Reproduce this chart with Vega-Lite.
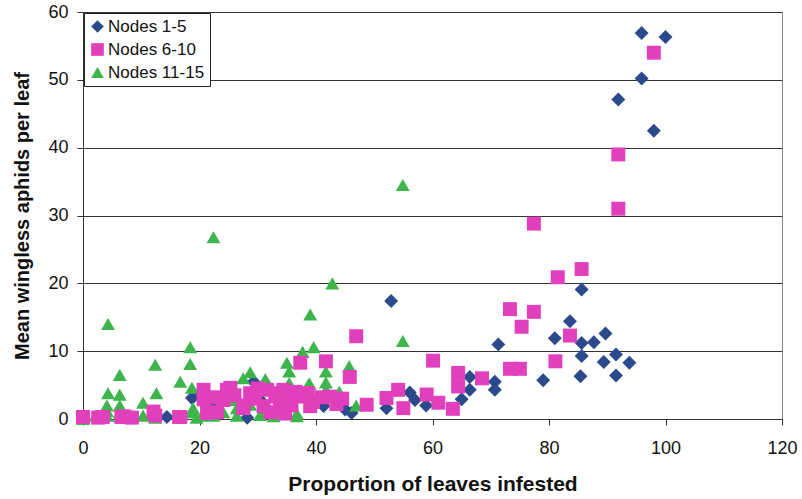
{
  "$schema": "https://vega.github.io/schema/vega-lite/v6.json",
  "width": 699,
  "height": 407,
  "autosize": {"type": "none"},
  "padding": {"left": 83, "top": 12, "right": 20, "bottom": 80},
  "background": "white",
  "config": {
    "font": "Liberation Sans",
    "view": {"stroke": "#888888", "strokeWidth": 1}
  },
  "datasets": {
    "pts": [
      {"series": "Nodes 1-5", "x": 95.9, "y": 56.9},
      {"series": "Nodes 1-5", "x": 100, "y": 56.3},
      {"series": "Nodes 1-5", "x": 95.9, "y": 50.2},
      {"series": "Nodes 1-5", "x": 91.9, "y": 47.1},
      {"series": "Nodes 1-5", "x": 98, "y": 42.5},
      {"series": "Nodes 1-5", "x": 85.6, "y": 19.1},
      {"series": "Nodes 1-5", "x": 83.6, "y": 14.4},
      {"series": "Nodes 1-5", "x": 71.3, "y": 11.0},
      {"series": "Nodes 1-5", "x": 81.0, "y": 11.9},
      {"series": "Nodes 1-5", "x": 85.6, "y": 11.2},
      {"series": "Nodes 1-5", "x": 87.7, "y": 11.3},
      {"series": "Nodes 1-5", "x": 89.7, "y": 12.6},
      {"series": "Nodes 1-5", "x": 85.6, "y": 9.3},
      {"series": "Nodes 1-5", "x": 91.5, "y": 9.5},
      {"series": "Nodes 1-5", "x": 89.4, "y": 8.4},
      {"series": "Nodes 1-5", "x": 93.8, "y": 8.3},
      {"series": "Nodes 1-5", "x": 85.4, "y": 6.3},
      {"series": "Nodes 1-5", "x": 91.5, "y": 6.4},
      {"series": "Nodes 1-5", "x": 79.0, "y": 5.7},
      {"series": "Nodes 1-5", "x": 70.7, "y": 5.5},
      {"series": "Nodes 1-5", "x": 70.7, "y": 4.3},
      {"series": "Nodes 1-5", "x": 66.4, "y": 6.2},
      {"series": "Nodes 1-5", "x": 66.4, "y": 4.3},
      {"series": "Nodes 1-5", "x": 65, "y": 2.9},
      {"series": "Nodes 1-5", "x": 52.9, "y": 17.4},
      {"series": "Nodes 1-5", "x": 56.1, "y": 3.9},
      {"series": "Nodes 1-5", "x": 57.0, "y": 2.8},
      {"series": "Nodes 1-5", "x": 58.9, "y": 2.0},
      {"series": "Nodes 1-5", "x": 52.1, "y": 1.6},
      {"series": "Nodes 1-5", "x": 45, "y": 1.4},
      {"series": "Nodes 1-5", "x": 46.1, "y": 0.9},
      {"series": "Nodes 1-5", "x": 14.4, "y": 0.3},
      {"series": "Nodes 1-5", "x": 18.7, "y": 3.1},
      {"series": "Nodes 1-5", "x": 29.3, "y": 5.5},
      {"series": "Nodes 1-5", "x": 30.7, "y": 2.6},
      {"series": "Nodes 1-5", "x": 28.2, "y": 0.2},
      {"series": "Nodes 1-5", "x": 22.4, "y": 2.3},
      {"series": "Nodes 1-5", "x": 41.3, "y": 1.9},
      {"series": "Nodes 1-5", "x": 19, "y": 3.3},
      {"series": "Nodes 6-10", "x": 98, "y": 54.0},
      {"series": "Nodes 6-10", "x": 91.9, "y": 39.0},
      {"series": "Nodes 6-10", "x": 91.9, "y": 31.0},
      {"series": "Nodes 6-10", "x": 77.4, "y": 28.8},
      {"series": "Nodes 6-10", "x": 85.6, "y": 22.1},
      {"series": "Nodes 6-10", "x": 81.5, "y": 20.9},
      {"series": "Nodes 6-10", "x": 73.3, "y": 16.2},
      {"series": "Nodes 6-10", "x": 77.4, "y": 15.8},
      {"series": "Nodes 6-10", "x": 75.3, "y": 13.6},
      {"series": "Nodes 6-10", "x": 83.6, "y": 12.3},
      {"series": "Nodes 6-10", "x": 81.1, "y": 8.5},
      {"series": "Nodes 6-10", "x": 73.3, "y": 7.4},
      {"series": "Nodes 6-10", "x": 75, "y": 7.4},
      {"series": "Nodes 6-10", "x": 68.5, "y": 6.0},
      {"series": "Nodes 6-10", "x": 64.4, "y": 6.8},
      {"series": "Nodes 6-10", "x": 64.4, "y": 4.8},
      {"series": "Nodes 6-10", "x": 63.5, "y": 1.5},
      {"series": "Nodes 6-10", "x": 46.9, "y": 12.2},
      {"series": "Nodes 6-10", "x": 60.1, "y": 8.6},
      {"series": "Nodes 6-10", "x": 37.3, "y": 8.3},
      {"series": "Nodes 6-10", "x": 41.7, "y": 8.5},
      {"series": "Nodes 6-10", "x": 45.8, "y": 6.2},
      {"series": "Nodes 6-10", "x": 48.7, "y": 2.1},
      {"series": "Nodes 6-10", "x": 52.1, "y": 3.1},
      {"series": "Nodes 6-10", "x": 54.1, "y": 4.3},
      {"series": "Nodes 6-10", "x": 55, "y": 1.6},
      {"series": "Nodes 6-10", "x": 59, "y": 3.6},
      {"series": "Nodes 6-10", "x": 61, "y": 2.4},
      {"series": "Nodes 6-10", "x": 39.5, "y": 2.5},
      {"series": "Nodes 6-10", "x": 41, "y": 3.2},
      {"series": "Nodes 6-10", "x": 43.5, "y": 2.2},
      {"series": "Nodes 6-10", "x": 44.5, "y": 3.0},
      {"series": "Nodes 6-10", "x": 0, "y": 0.3},
      {"series": "Nodes 6-10", "x": 2.6, "y": 0.2},
      {"series": "Nodes 6-10", "x": 6.6, "y": 0.3},
      {"series": "Nodes 6-10", "x": 8.4, "y": 0.2},
      {"series": "Nodes 6-10", "x": 12.4, "y": 0.5},
      {"series": "Nodes 6-10", "x": 16.5, "y": 0.3},
      {"series": "Nodes 6-10", "x": 20.7, "y": 4.3},
      {"series": "Nodes 6-10", "x": 20.7, "y": 2.9},
      {"series": "Nodes 6-10", "x": 24.7, "y": 4.3},
      {"series": "Nodes 6-10", "x": 28.7, "y": 3.8},
      {"series": "Nodes 6-10", "x": 27.6, "y": 2.0},
      {"series": "Nodes 6-10", "x": 31.6, "y": 4.3},
      {"series": "Nodes 6-10", "x": 33.3, "y": 3.3},
      {"series": "Nodes 6-10", "x": 34.4, "y": 4.3},
      {"series": "Nodes 6-10", "x": 35.8, "y": 2.0},
      {"series": "Nodes 6-10", "x": 38.6, "y": 3.8},
      {"series": "Nodes 6-10", "x": 32.2, "y": 1.0},
      {"series": "Nodes 6-10", "x": 23, "y": 1.0},
      {"series": "Nodes 6-10", "x": 34.7, "y": 0.8},
      {"series": "Nodes 6-10", "x": 25.3, "y": 4.6},
      {"series": "Nodes 6-10", "x": 33, "y": 3.8},
      {"series": "Nodes 6-10", "x": 35.6, "y": 3.3},
      {"series": "Nodes 6-10", "x": 38.1, "y": 3.3},
      {"series": "Nodes 6-10", "x": 42.4, "y": 3.3},
      {"series": "Nodes 6-10", "x": 31, "y": 1.9},
      {"series": "Nodes 6-10", "x": 33.8, "y": 1.5},
      {"series": "Nodes 6-10", "x": 24.1, "y": 2.8},
      {"series": "Nodes 6-10", "x": 27.5, "y": 1.6},
      {"series": "Nodes 6-10", "x": 39, "y": 1.9},
      {"series": "Nodes 6-10", "x": 21.3, "y": 0.9},
      {"series": "Nodes 6-10", "x": 12.1, "y": 1.1},
      {"series": "Nodes 6-10", "x": 16.7, "y": 0.3},
      {"series": "Nodes 6-10", "x": 3.4, "y": 0.3},
      {"series": "Nodes 6-10", "x": 7, "y": 0.4},
      {"series": "Nodes 6-10", "x": 29.5, "y": 3.0},
      {"series": "Nodes 6-10", "x": 30, "y": 4.5},
      {"series": "Nodes 6-10", "x": 26, "y": 3.5},
      {"series": "Nodes 6-10", "x": 22.5, "y": 3.2},
      {"series": "Nodes 6-10", "x": 36.5, "y": 4.0},
      {"series": "Nodes 11-15", "x": 54.9, "y": 34.5},
      {"series": "Nodes 11-15", "x": 42.8, "y": 20.0},
      {"series": "Nodes 11-15", "x": 39.0, "y": 15.4},
      {"series": "Nodes 11-15", "x": 54.9, "y": 11.5},
      {"series": "Nodes 11-15", "x": 39.6, "y": 10.6},
      {"series": "Nodes 11-15", "x": 37.7, "y": 9.9},
      {"series": "Nodes 11-15", "x": 45.7, "y": 7.8},
      {"series": "Nodes 11-15", "x": 41.7, "y": 7.0},
      {"series": "Nodes 11-15", "x": 38.9, "y": 5.2},
      {"series": "Nodes 11-15", "x": 41.7, "y": 4.3},
      {"series": "Nodes 11-15", "x": 41.7, "y": 5.4},
      {"series": "Nodes 11-15", "x": 46.9, "y": 2.0},
      {"series": "Nodes 11-15", "x": 22.4, "y": 26.8},
      {"series": "Nodes 11-15", "x": 4.3, "y": 14.0},
      {"series": "Nodes 11-15", "x": 18.4, "y": 10.6},
      {"series": "Nodes 11-15", "x": 12.4, "y": 8.0},
      {"series": "Nodes 11-15", "x": 18.4, "y": 8.1},
      {"series": "Nodes 11-15", "x": 35, "y": 8.3},
      {"series": "Nodes 11-15", "x": 6.3, "y": 6.5},
      {"series": "Nodes 11-15", "x": 16.7, "y": 5.5},
      {"series": "Nodes 11-15", "x": 28.7, "y": 6.9},
      {"series": "Nodes 11-15", "x": 27.5, "y": 6.0},
      {"series": "Nodes 11-15", "x": 31.3, "y": 5.9},
      {"series": "Nodes 11-15", "x": 35.4, "y": 7.0},
      {"series": "Nodes 11-15", "x": 35.4, "y": 5.3},
      {"series": "Nodes 11-15", "x": 4.3, "y": 3.8},
      {"series": "Nodes 11-15", "x": 6.3, "y": 3.6},
      {"series": "Nodes 11-15", "x": 12.6, "y": 3.8},
      {"series": "Nodes 11-15", "x": 18.7, "y": 4.6},
      {"series": "Nodes 11-15", "x": 10.3, "y": 2.4},
      {"series": "Nodes 11-15", "x": 20.7, "y": 3.6},
      {"series": "Nodes 11-15", "x": 25.8, "y": 2.8},
      {"series": "Nodes 11-15", "x": 0, "y": 0},
      {"series": "Nodes 11-15", "x": 2.1, "y": 0.5},
      {"series": "Nodes 11-15", "x": 4.1, "y": 2.0},
      {"series": "Nodes 11-15", "x": 4.1, "y": 1.2},
      {"series": "Nodes 11-15", "x": 4.1, "y": 0.5},
      {"series": "Nodes 11-15", "x": 6.3, "y": 2.0},
      {"series": "Nodes 11-15", "x": 6.3, "y": 1.0},
      {"series": "Nodes 11-15", "x": 6.3, "y": 0.5},
      {"series": "Nodes 11-15", "x": 8.4, "y": 0.5},
      {"series": "Nodes 11-15", "x": 10.3, "y": 0.5},
      {"series": "Nodes 11-15", "x": 12.4, "y": 0.2},
      {"series": "Nodes 11-15", "x": 16.7, "y": 0.5},
      {"series": "Nodes 11-15", "x": 18.7, "y": 1.0},
      {"series": "Nodes 11-15", "x": 20.4, "y": 0.5},
      {"series": "Nodes 11-15", "x": 22.4, "y": 0.5},
      {"series": "Nodes 11-15", "x": 24.1, "y": 1.0},
      {"series": "Nodes 11-15", "x": 26.4, "y": 1.6},
      {"series": "Nodes 11-15", "x": 26.4, "y": 0.5},
      {"series": "Nodes 11-15", "x": 30.7, "y": 1.0},
      {"series": "Nodes 11-15", "x": 32.7, "y": 1.0},
      {"series": "Nodes 11-15", "x": 36.7, "y": 0.8},
      {"series": "Nodes 11-15", "x": 28.7, "y": 2.1},
      {"series": "Nodes 11-15", "x": 38.7, "y": 5.1},
      {"series": "Nodes 11-15", "x": 21, "y": 3.3},
      {"series": "Nodes 11-15", "x": 18.9, "y": 1.6},
      {"series": "Nodes 11-15", "x": 19.5, "y": 0.2},
      {"series": "Nodes 11-15", "x": 30.4, "y": 0.6},
      {"series": "Nodes 11-15", "x": 32.7, "y": 0.4},
      {"series": "Nodes 11-15", "x": 36.7, "y": 0.4},
      {"series": "Nodes 11-15", "x": 44, "y": 4.0}
    ]
  },
  "data": {"name": "pts"},
  "mark": {"type": "point", "filled": true, "opacity": 1, "size": 195},
  "encoding": {
    "x": {
      "field": "x",
      "type": "quantitative",
      "scale": {"domain": [0, 120], "nice": false, "zero": false},
      "axis": {
        "title": "Proportion of leaves infested",
        "values": [0, 20, 40, 60, 80, 100, 120],
        "grid": false,
        "labelFlush": false,
        "domainColor": "#333333",
        "tickColor": "#333333",
        "tickSize": 6,
        "labelPadding": 14,
        "labelFontSize": 18,
        "labelColor": "#111111",
        "labelFont": "Liberation Sans",
        "titleFont": "Liberation Sans",
        "titleFontSize": 21,
        "titleFontWeight": "bold",
        "titleColor": "#111111",
        "titlePadding": 16
      }
    },
    "y": {
      "field": "y",
      "type": "quantitative",
      "scale": {"domain": [0, 60], "nice": false, "zero": false},
      "axis": {
        "title": "Mean wingless aphids per leaf",
        "values": [0, 10, 20, 30, 40, 50, 60],
        "grid": true,
        "labelFlush": false,
        "gridColor": "#333333",
        "gridWidth": 1,
        "domainColor": "#333333",
        "tickColor": "#333333",
        "tickSize": 6,
        "labelPadding": 9,
        "labelFontSize": 18,
        "labelColor": "#111111",
        "labelFont": "Liberation Sans",
        "titleFont": "Liberation Sans",
        "titleFontSize": 20,
        "titleFontWeight": "bold",
        "titleColor": "#111111",
        "titlePadding": 15
      }
    },
    "color": {
      "field": "series",
      "type": "nominal",
      "scale": {
        "domain": ["Nodes 1-5", "Nodes 6-10", "Nodes 11-15"],
        "range": ["#2b4a8c", "#e23fbd", "#3db54a"]
      },
      "legend": {
        "title": null,
        "orient": "none",
        "legendX": 1,
        "legendY": 1,
        "strokeColor": "#222222",
        "fillColor": "white",
        "padding": 5,
        "rowPadding": 5,
        "labelFontSize": 17,
        "labelFont": "Liberation Sans",
        "labelColor": "#111111",
        "symbolSize": 160,
        "symbolOpacity": 1,
        "labelOffset": 2
      }
    },
    "shape": {
      "field": "series",
      "type": "nominal",
      "scale": {
        "domain": ["Nodes 1-5", "Nodes 6-10", "Nodes 11-15"],
        "range": ["diamond", "square", "triangle-up"]
      },
      "legend": null
    },
    "order": {"field": "series", "sort": "ascending"}
  }
}
